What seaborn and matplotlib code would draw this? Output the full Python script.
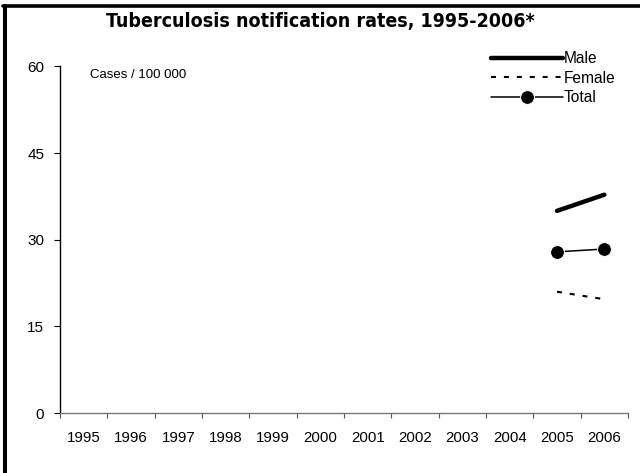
import numpy as np
import pandas as pd
import matplotlib
matplotlib.use("Agg")
import matplotlib.pyplot as plt
import seaborn as sns
from matplotlib.lines import Line2D

# --- data (cases per 100 000) ---
YEARS = [str(y) for y in range(1995, 2007)]
MALE = [np.nan] * 10 + [35.0, 37.8]
FEMALE = [np.nan] * 10 + [21.0, 19.7]
TOTAL = [np.nan] * 10 + [27.9, 28.4]
Y_TICKS = [0, 15, 30, 45, 60]

sns.set_style("white")
plt.rcParams["font.family"] = ["Liberation Sans", "DejaVu Sans"]
for key in ["text.color", "axes.labelcolor", "xtick.color", "ytick.color"]:
    plt.rcParams[key] = "black"

fig = plt.figure(figsize=(6.4, 4.73), dpi=100)
W, H = 640, 473
ax = fig.add_axes([60 / W, 1 - 413 / H, (628 - 60) / W, (413 - 66.5) / H])

df = pd.DataFrame({"idx": np.arange(len(YEARS)), "Male": MALE,
                   "Female": FEMALE, "Total": TOTAL})

sns.lineplot(data=df, x="idx", y="Male", ax=ax, color="black",
             linewidth=3.2, solid_capstyle="round", label="Male")
sns.lineplot(data=df, x="idx", y="Female", ax=ax, color="black",
             linewidth=1.5, linestyle=(0, (2.4, 3.8)), label="Female")
sns.lineplot(data=df, x="idx", y="Total", ax=ax, color="black",
             linewidth=1.1, marker="o", markersize=10, label="Total")

# axes styling
ax.set_xlim(-0.5, len(YEARS) - 0.5)
ax.set_ylim(0, 60)
ax.set_yticks(Y_TICKS)
ax.set_xticks(np.arange(-0.5, len(YEARS), 1))
ax.set_xticklabels([])
ax.set_xticks(np.arange(len(YEARS)), minor=True)
ax.set_xticklabels(YEARS, minor=True)
ax.set_xlabel("")
ax.set_ylabel("")
for s in ["top", "right"]:
    ax.spines[s].set_visible(False)
ax.spines["left"].set_color("black")
ax.spines["left"].set_linewidth(1.0)
ax.spines["bottom"].set_color("#777777")
ax.spines["bottom"].set_linewidth(1.0)
ax.tick_params(axis="y", which="major", direction="out", length=4.3,
               width=0.8, color="black", pad=7, labelsize=11, left=True)
ax.tick_params(axis="x", which="major", direction="out", length=3.5,
               width=0.8, color="#555555", bottom=True)
ax.tick_params(axis="x", which="minor", length=0, pad=13, labelsize=10.8)

# legend without frame, top right
handles, labels = ax.get_legend_handles_labels()
ax.legend(handles, labels, loc="upper left",
          bbox_to_anchor=(491 / W, 1 - 51 / H), bbox_transform=fig.transFigure,
          frameon=False, handlelength=4.6, handletextpad=0.05,
          labelspacing=0.3, borderpad=0, borderaxespad=0, fontsize=11.2)

fig.text(320 / W, 1 - 22 / H, "Tuberculosis notification rates, 1995-2006*",
         ha="center", va="center", fontsize=14, fontweight="bold",
         family="DejaVu Sans", fontstretch="condensed")
fig.text(90 / W, 1 - 75 / H, "Cases / 100 000", ha="left", va="center",
         fontsize=9.5)

# frame lines on top and left edge
fig.add_artist(Line2D([3 / W, 1], [1 - 6 / H, 1 - 6 / H],
                      transform=fig.transFigure, color="black", linewidth=2.6))
fig.add_artist(Line2D([5 / W, 5 / W], [0, 1 - 6 / H],
                      transform=fig.transFigure, color="black", linewidth=2.9))

fig.savefig("out.png", dpi=100)
